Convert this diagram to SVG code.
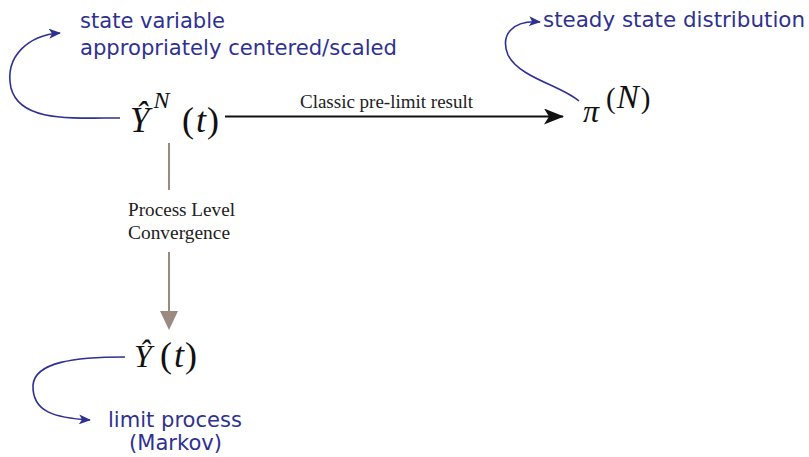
<svg xmlns="http://www.w3.org/2000/svg" width="809" height="457" viewBox="0 0 809 457">
<style>
.lbl{font-family:"DejaVu Sans",sans-serif;font-size:21.5px;fill:#2e3192}
.math{font-family:"Liberation Serif",serif;fill:#111}
.it{font-style:italic}
.cap{font-family:"Liberation Serif",serif;font-size:19px;fill:#222}
.blue{fill:none;stroke:#2e3192;stroke-width:1.6}
</style>
<defs>
<marker id="ab" markerWidth="12" markerHeight="10" refX="11" refY="5" orient="auto" markerUnits="userSpaceOnUse"><path d="M0,0 L12,5 L0,10 L3,5 Z" fill="#2e3192"/></marker>
<marker id="ak" markerWidth="20" markerHeight="16" refX="19" refY="8" orient="auto" markerUnits="userSpaceOnUse"><path d="M0,0 L20,8 L0,16 L5,8 Z" fill="#111"/></marker>
</defs>
<g id="connectors">
<line x1="225" y1="116.5" x2="563" y2="116.5" stroke="#111" stroke-width="2" marker-end="url(#ak)"/>
<line x1="169" y1="143" x2="169" y2="190" stroke="#9a8a80" stroke-width="2"/>
<line x1="169" y1="252" x2="169" y2="312" stroke="#9a8a80" stroke-width="2"/>
<path d="M160,311 L178,311 L169,330 Z" fill="#9a8a80"/>
<path class="blue" d="M120,118 C70,118 20,122 11,88 C4,55 30,35 60,33" marker-end="url(#ab)"/>
<path class="blue" d="M579,101 C560,85 520,78 508,55 C500,35 512,20 540,22" marker-end="url(#ab)"/>
<path class="blue" d="M125,357 C75,357 35,362 33,385 C32,412 55,418 90,420" marker-end="url(#ab)"/>
<text class="cap" x="300" y="108" textLength="173" lengthAdjust="spacingAndGlyphs">Classic pre-limit result</text>
<text class="cap" x="128" y="216" textLength="107" lengthAdjust="spacingAndGlyphs">Process Level</text>
<text class="cap" x="128" y="239" textLength="102" lengthAdjust="spacingAndGlyphs">Convergence</text>
</g>
<g id="label-state">
<text class="lbl" x="80" y="28" textLength="145" lengthAdjust="spacingAndGlyphs">state variable</text>
<text class="lbl" x="80" y="55" textLength="317" lengthAdjust="spacingAndGlyphs">appropriately centered/scaled</text>
</g>
<g id="node-YN">
<text class="math" x="130" y="132" font-size="36"><tspan class="it" font-size="35">Ŷ</tspan><tspan class="it" font-size="24" dx="4" dy="-24">N</tspan><tspan x="182" dy="24">(</tspan><tspan class="it" dx="2">t</tspan><tspan dx="1">)</tspan></text>
</g>
<g id="label-steady">
<text class="lbl" x="543" y="27" textLength="262" lengthAdjust="spacingAndGlyphs">steady state distribution</text>
</g>
<g id="node-pi">
<text class="math" x="583" y="122" font-size="29"><tspan class="it" font-size="32">π</tspan><tspan x="606" dy="-14">(</tspan><tspan class="it" dx="1" font-size="33">N</tspan><tspan dx="2">)</tspan></text>
</g>
<g id="node-Y">
<text class="math" x="134" y="367" font-size="36"><tspan class="it" font-size="32">Ŷ</tspan><tspan x="160">(</tspan><tspan class="it" dx="2">t</tspan><tspan dx="1">)</tspan></text>
</g>
<g id="label-limit">
<text class="lbl" x="108" y="427" textLength="134" lengthAdjust="spacingAndGlyphs">limit process</text>
<text class="lbl" x="129" y="450" textLength="93" lengthAdjust="spacingAndGlyphs">(Markov)</text>
</g>
</svg>
